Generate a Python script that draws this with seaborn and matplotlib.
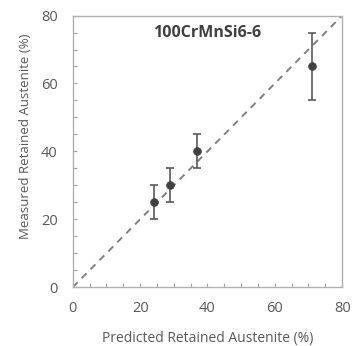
import numpy as np
import pandas as pd
import matplotlib
matplotlib.use("Agg")
import matplotlib.pyplot as plt
from matplotlib.ticker import MultipleLocator
import seaborn as sns

# values
predicted = [24, 29, 37, 71]
measured = [25, 30, 40, 65]
error = [5, 5, 5, 10]
title_text = "100CrMnSi6-6"

df = pd.DataFrame({"predicted": predicted, "measured": measured, "err": error})

sns.set_style("white")
plt.rcParams['font.family'] = ['Open Sans', 'DejaVu Sans']

grey = "#595959"
fig, ax = plt.subplots(figsize=(3.64, 3.46), dpi=100)
fig.subplots_adjust(left=0.20, right=0.94, bottom=0.17, top=0.955)

# 1:1 line
ax.plot([0, 80], [0, 80], ls=(0, (3.5, 3)), color="#808080", lw=1.4, zorder=1)

ax.errorbar(df["predicted"], df["measured"], yerr=df["err"], fmt="none",
            ecolor="#5a5a5a", elinewidth=1.2, capsize=3, capthick=1.2, zorder=2)
sns.scatterplot(data=df, x="predicted", y="measured", ax=ax, s=32,
                color="#404040", edgecolor="#404040", zorder=3, legend=False)

ax.text(40, 75, title_text, ha="center", va="center", fontsize=11.5,
        fontweight="bold", color="#404040")

ax.set_xlim(0, 80)
ax.set_ylim(0, 80)
ax.xaxis.set_major_locator(MultipleLocator(20))
ax.yaxis.set_major_locator(MultipleLocator(20))
ax.xaxis.set_minor_locator(MultipleLocator(5))
ax.yaxis.set_minor_locator(MultipleLocator(5))
ax.tick_params(which="both", direction="in", length=3, width=0.8,
               bottom=True, left=True, color="#a0a0a0",
               labelcolor=grey, labelsize=10.5)
ax.tick_params(axis="x", which="major", pad=10)
ax.tick_params(axis="y", which="major", pad=11)
ax.set_xlabel("Predicted Retained Austenite (%)", color=grey, fontsize=10)
ax.set_ylabel("Measured Retained Austenite (%)", color=grey, fontsize=9.5)
ax.xaxis.set_label_coords(0.5, -0.162)
ax.yaxis.set_label_coords(-0.15, 0.555)
for sp in ax.spines.values():
    sp.set_color("#b0b0b0")
    sp.set_linewidth(1.0)

fig.savefig("out.png", dpi=100)
